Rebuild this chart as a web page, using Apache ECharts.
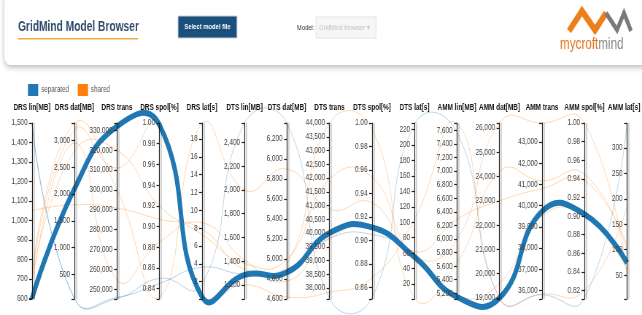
<!DOCTYPE html>
<html><head><meta charset="utf-8">
<script src="https://cdn.jsdelivr.net/npm/echarts@6/dist/echarts.min.js"></script>
<style>
html,body{margin:0;padding:0;overflow:hidden;background:#fff;width:642px;height:315px}
#wrap{width:642px;height:315px;overflow:hidden;position:relative}
#chart{width:880px;height:315px;transform:scaleX(0.72955);transform-origin:0 0;position:absolute;left:0;top:0}
</style></head><body><div id="wrap"><div id="chart"></div></div>
<script>
const axisNames = ['DRS lin[MB]','DRS dat[MB]','DRS trans','DRS spol[%]','DRS lat[s]','DTS lin[MB]','DTS dat[MB]','DTS trans','DTS spol[%]','DTS lat[s]','AMM lin[MB]','AMM dat[MB]','AMM trans','AMM spol[%]','AMM lat[s]'];
const axisMin = [597, 40, 245000, 0.830, 0.05, 1080, 4600, 37600, 0.850, 0.5, 5115, 18960, 35600, 0.811, 3];
const axisMax = [1500, 3324, 333700, 1.000, 19.8, 2565, 6360, 44000, 1.000, 228.6, 7708, 26205, 43890, 1.000, 349];
const axisStep = [100, 500, 10000, 0.02, 2, 200, 200, 500, 0.02, 20, 200, 1000, 1000, 0.02, 50];
const axisDecimals = [0,0,0,2,0,0,0,0,2,0,0,0,0,2,0];

const legendNames = ['separated', 'shared'];
const highlightedLine = [600, 2100, 332000, 0.998, 0.3, 1284, 4867, 40000, 0.911, 55, 5145, 19000, 39730, 0.902, 74];
const separatedLines = [
  [1500, 45, 245300, 0.850, 1.7, 2563, 6355, 37620, 0.851, 227, 7570, 19000, 35800, 0.812, 347],
  [1500, 45, 245800, 0.845, 3.6, 1290, 4900, 39800, 0.905, 58, 5160, 19050, 39600, 0.900, 78]
];
const sharedLines = [
  [740, 3320, 300000, 0.832, 19.7, 2000, 5900, 40870, 0.932, 62, 6290, 23000, 40800, 0.938, 110],
  [720, 3200, 311000, 1.000, 0.4, 1200, 4620, 37840, 0.868, 104, 7700, 19000, 35840, 0.820, 185],
  [700, 2800, 320000, 0.920, 7.3, 1380, 5000, 41960, 0.954, 57, 5990, 26200, 43890, 1.000, 52],
  [1050, 1800, 290800, 0.907, 7.9, 1330, 4950, 44000, 0.995, 2, 5645, 24200, 41170, 0.945, 100],
  [680, 2950, 254600, 0.885, 8.6, 1410, 4780, 39800, 0.910, 50, 5150, 19600, 39500, 0.900, 60]
];

const FONT = "'Liberation Sans', Arial, sans-serif";
const BLUE = '#1f77b4', ORANGE = '#ff7f0e';
const SMOOTH = 0.5;
const SX = 0.72955;
const X = v => v / SX;

const chart = echarts.init(document.getElementById('chart'));

const parallelAxis = axisNames.map((name, i) => ({
  dim: i, name: name, type: 'value',
  min: axisMin[i], max: axisMax[i],
  splitNumber: Math.floor((axisMax[i] - axisMin[i]) / axisStep[i] + 1e-9),
  nameLocation: 'end', nameGap: 11,
  nameTruncate: { maxWidth: 300 },
  nameTextStyle: { fontSize: 8.8, fontWeight: 'bold', color: '#111', fontFamily: FONT,
    padding: i === axisNames.length - 1 ? [0, 8, 0, 0] : 0 },
  axisLine: { lineStyle: { color: '#222', width: 1.2, shadowColor: 'rgba(0,0,0,0.28)', shadowOffsetX: 2.5, shadowBlur: 0 } },
  axisTick: { length: -4, lineStyle: { color: '#222', width: 1.2 } },
  axisLabel: {
    fontSize: 8.8, color: '#444', margin: -6, align: 'right', fontFamily: FONT,
    formatter: v => {
      const r = v / axisStep[i];
      if (Math.abs(r - Math.round(r)) > 1e-6) return '';
      return axisDecimals[i] ? v.toFixed(axisDecimals[i]) : Math.round(v).toLocaleString('en-US');
    }
  }
}));

const option = {
  animation: false,
  color: [BLUE, ORANGE],
  textStyle: { fontFamily: FONT },
  legend: {
    data: legendNames, left: X(28), top: 84, itemWidth: 12, itemHeight: 10, itemGap: 12,
    icon: 'rect', padding: 0,
    textStyle: { fontSize: 8.6, color: '#555', fontFamily: FONT },
    itemStyle: { opacity: 1 }
  },
  parallel: { left: X(32), right: 880 - X(627), top: 123, bottom: 16 },
  parallelAxis: parallelAxis,
  graphic: [
    { type: 'rect', shape: { x: 6, y: -12, width: 900, height: 77, r: 8 }, style: { fill: '#fff', shadowColor: 'rgba(0,0,0,0.3)', shadowBlur: 6, shadowOffsetY: 2 }, z: -10 },
    { type: 'text', x: X(18), y: 27, style: { text: 'GridMind Model Browser', font: "bold 14px " + FONT, fill: '#2e4a6b', verticalAlign: 'middle' } },
    { type: 'rect', shape: { x: X(18), y: 38, width: X(120), height: 1.5 }, style: { fill: '#f2a93b' } },
    { type: 'rect', shape: { x: X(178), y: 16, width: X(59), height: 22 }, style: { fill: '#1b4f7c', stroke: '#c8d2dc', lineWidth: 1 } },
    { type: 'text', x: X(207.5), y: 27, style: { text: 'Select model file', font: "bold 8px " + FONT, fill: '#fff', align: 'center', verticalAlign: 'middle' } },
    { type: 'text', x: X(297), y: 28, style: { text: 'Model:', font: "8px " + FONT, fill: '#333', verticalAlign: 'middle' } },
    { type: 'rect', shape: { x: X(316), y: 17, width: X(60), height: 21 }, style: { fill: '#f6f6f6', stroke: '#e3e3e3', lineWidth: 1 } },
    { type: 'text', x: X(319), y: 28, style: { text: 'GridMind browser ▾', font: "8px " + FONT, fill: '#c2c2c2', verticalAlign: 'middle' } },
    { type: 'polyline', shape: { points: [[X(569), 31], [X(582), 11], [X(595), 30], [X(606), 13]] }, style: { stroke: '#ef7d1a', lineWidth: 7, fill: null, lineJoin: 'miter' } },
    { type: 'polyline', shape: { points: [[X(606), 13], [X(617), 30], [X(624), 13], [X(631), 31]] }, style: { stroke: '#7a7a7a', lineWidth: 5, fill: null, lineJoin: 'miter' } },
    { type: 'text', x: X(560), y: 45, style: { text: '{a|mycroft}{b|mind}', verticalAlign: 'middle', rich: { a: { font: "16px " + FONT, fill: '#e8731e' }, b: { font: "16px " + FONT, fill: '#888' } } } }
  ],
  series: [
    { type: 'parallel', name: legendNames[0], data: separatedLines, smooth: SMOOTH, silent: true, z: 2,
      lineStyle: { color: BLUE, width: 1, opacity: 0.3 }, emphasis: { disabled: true } },
    { type: 'parallel', name: legendNames[1], data: sharedLines, smooth: SMOOTH, silent: true, z: 2,
      lineStyle: { color: ORANGE, width: 1, opacity: 0.3 }, emphasis: { disabled: true } },
    { type: 'parallel', name: legendNames[0], data: [highlightedLine], smooth: SMOOTH, silent: true, z: 3,
      lineStyle: { color: BLUE, width: 6, opacity: 1 }, emphasis: { disabled: true } }
  ]
};
chart.setOption(option);
</script></body></html>
